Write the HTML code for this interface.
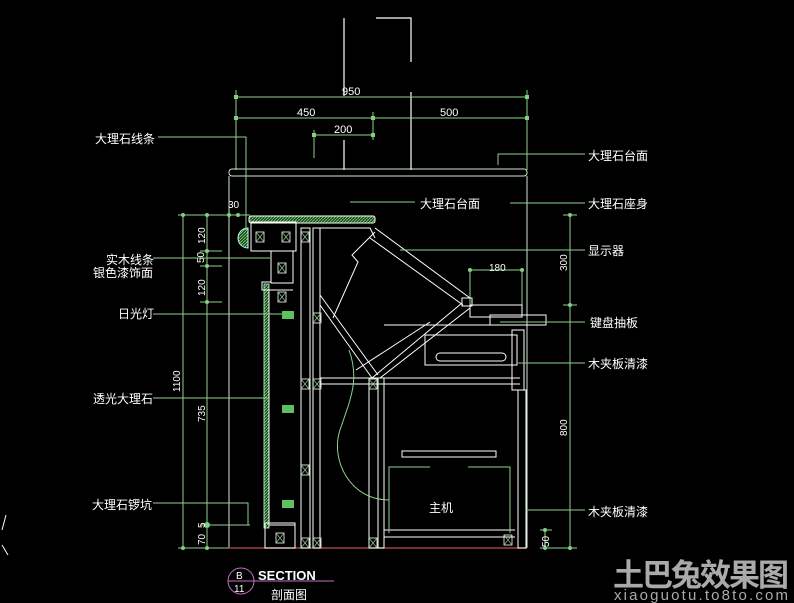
<!DOCTYPE html>
<html><head><meta charset="utf-8"><style>
html,body{margin:0;padding:0;background:#000;}
svg{display:block;}
text{font-family:"Liberation Sans","Noto Sans CJK SC",sans-serif;}
</style></head><body>
<svg width="794" height="603" viewBox="0 0 794 603" xmlns="http://www.w3.org/2000/svg">
<rect width="794" height="603" fill="#000"/>
<defs>
<pattern id="h" width="3" height="3" patternUnits="userSpaceOnUse"><rect width="3" height="3" fill="#1a4a1a"/><path d="M0 3L3 0" stroke="#7fd07f" stroke-width="0.8"/></pattern>
<g id="x"><rect x="-4" y="-5" width="8" height="10" fill="none" stroke="#fff" stroke-width="0.8"/><path d="M-4 -5L4 5M4 -5L-4 5" stroke="#8fd08f" stroke-width="0.7"/></g>
</defs>
<g stroke="#fff" stroke-width="1.2" fill="none">
<path d="M344 18V96"/><path d="M344 140V170"/><path d="M376 18H411V62"/><path d="M411 92V170"/>
</g>
<g stroke="#8fd08f" stroke-width="1" fill="none">
<path d="M236 97H527"/><path d="M236 90V170"/><path d="M527 90V170"/>
<path d="M236 118H527"/><path d="M373 112V140"/>
<path d="M314 135H373"/><path d="M314 130V158"/>
</g>
<g fill="#7fd07f"><rect x="234" y="95" width="4" height="4"/><rect x="525" y="95" width="4" height="4"/><rect x="234" y="116" width="4" height="4"/><rect x="371" y="116" width="4" height="4"/><rect x="525" y="116" width="4" height="4"/><rect x="371" y="133" width="4" height="4"/><rect x="312" y="133" width="4" height="4"/></g>
<g fill="#fff" font-size="11"><text x="342" y="95">950</text><text x="297" y="116">450</text><text x="440" y="116">500</text><text x="334" y="133">200</text></g>
<g stroke="#cfe8cf" stroke-width="1" fill="none">
<rect x="229" y="169" width="298" height="7" rx="3"/>
<path d="M229 176V548M527 176V548"/>
</g>
<g stroke="#8fd08f" stroke-width="1" fill="none">
<path d="M183 213V550"/><path d="M207 213V550"/>
<path d="M178 215H250"/><path d="M200 251H222M200 266H222M200 302H222M200 525H250M178 548H229"/>
<path d="M563 215H577M563 305H577M540 548H577M570 213V550M545 530V548M540 530H552"/>
<path d="M470 305V270H522V305"/>
</g>
<g fill="#7fd07f"><circle cx="183" cy="215" r="2"/><circle cx="207" cy="215" r="2"/><circle cx="229" cy="215" r="2"/><circle cx="238" cy="215" r="2"/><circle cx="207" cy="251" r="2"/><circle cx="207" cy="266" r="2"/><circle cx="207" cy="302" r="2"/><circle cx="207" cy="525" r="3"/><circle cx="183" cy="548" r="2"/><circle cx="207" cy="548" r="2"/><circle cx="570" cy="215" r="2"/><circle cx="570" cy="305" r="2"/><circle cx="570" cy="548" r="2"/><circle cx="545" cy="548" r="2"/><circle cx="545" cy="530" r="2"/><circle cx="470" cy="270" r="2"/><circle cx="522" cy="270" r="2"/></g>
<g fill="#fff" font-size="10">
<text transform="translate(180,392) rotate(-90)">1100</text>
<text transform="translate(205,244) rotate(-90)">120</text>
<text transform="translate(204,263) rotate(-90)">50</text>
<text transform="translate(205,296) rotate(-90)">120</text>
<text transform="translate(205,422) rotate(-90)">735</text>
<text transform="translate(205,528) rotate(-90)">5</text>
<text transform="translate(205,545) rotate(-90)">70</text>
<text transform="translate(567,271) rotate(-90)">300</text>
<text transform="translate(567,436) rotate(-90)">800</text>
<text transform="translate(549,547) rotate(-90)">50</text>
<text x="228" y="208">30</text><text x="489" y="271">180</text>
</g>
<path d="M229 548H527" stroke="#a04040" stroke-width="1.5"/>
<rect x="249" y="216" width="126" height="7" rx="2" fill="url(#h)" stroke="#fff" stroke-width="1"/>
<path d="M248 228 A10 10 0 0 0 248 248Z" fill="url(#h)" stroke="#cfe"/>
<rect x="264" y="284" width="5" height="244" fill="url(#h)" stroke="#cfe" stroke-width="0.8"/>
<g stroke="#fff" stroke-width="1" fill="none">
<rect x="251" y="222" width="45" height="29"/>
<path d="M271 251V282H262V290H293"/>
<rect x="271" y="251" width="22" height="32"/>
<path d="M269 290V525H295V548"/><rect x="265" y="523" width="30" height="25"/>
<rect x="301" y="228" width="9" height="320"/>
<rect x="313" y="228" width="7" height="320"/>
<path d="M320 228H370L375 238"/>
<rect x="369" y="378" width="9" height="170"/>
<rect x="378" y="378" width="6" height="170"/>
<path d="M320 378H520M320 384H520"/>
<path d="M375 228L470 298M370 238L463 305"/>
<path d="M320 295L378 375M320 305L372 378"/>
<path d="M372 378L462 303M380 378L470 308"/>
<path d="M375 232L352 255L358 262L333 318"/>
<path d="M430 322L356 370"/>
<rect x="470" y="305" width="52" height="12"/><rect x="462" y="298" width="10" height="8"/>
<rect x="490" y="315" width="56" height="10"/>
<path d="M384 325H520"/>
<rect x="425" y="335" width="92" height="30"/><rect x="436" y="353" width="70" height="8" rx="4"/>
<rect x="512" y="330" width="12" height="60"/>
<rect x="518" y="390" width="8" height="158"/>
<rect x="402" y="451" width="94" height="6"/>
<path d="M384 530H515M384 537H515"/>
</g>
<g>
<use href="#x" x="260" y="237"/><use href="#x" x="286" y="237"/><use href="#x" x="282" y="268"/><use href="#x" x="282" y="297"/>
<use href="#x" x="305" y="237"/><use href="#x" x="305" y="384"/><use href="#x" x="305" y="470"/><use href="#x" x="305" y="543"/>
<use href="#x" x="317" y="318"/><use href="#x" x="317" y="384"/><use href="#x" x="317" y="543"/>
<use href="#x" x="373" y="384"/><use href="#x" x="373" y="543"/><use href="#x" x="280" y="538"/><use href="#x" x="508" y="540"/>
</g>
<path d="M389 533V467H430M468 467H510V533" stroke="#8fd08f" fill="none"/>
<path d="M349 350C360 380 350 400 340 430C330 460 350 500 389 500" stroke="#8fd08f" fill="none"/>
<g fill="#5fc05f"><rect x="282" y="311" width="12" height="8"/><rect x="282" y="405" width="12" height="8"/><rect x="282" y="500" width="12" height="8"/></g>
<g stroke="#8fd08f" stroke-width="1" fill="none">
<path d="M158 137H246V230"/><path d="M153 258H270"/><path d="M153 314H282"/>
<path d="M153 398H268"/><path d="M153 503H248V525"/>
<path d="M585 154H498V165"/><path d="M585 203H510"/><path d="M585 250H400"/>
<path d="M585 322H500"/><path d="M585 363H518"/><path d="M585 510H526"/>
<path d="M350 202H415"/>
</g>
<g fill="#fff" font-size="12">
<text x="95" y="143">大理石线条</text>
<text x="106" y="264">实木线条</text><text x="93" y="277">银色漆饰面</text>
<text x="118" y="318">日光灯</text>
<text x="93" y="403">透光大理石</text>
<text x="92" y="509">大理石锣坑</text>
<text x="420" y="208">大理石台面</text>
<text x="588" y="160">大理石台面</text>
<text x="588" y="208">大理石座身</text>
<text x="588" y="255">显示器</text>
<text x="590" y="327">键盘抽板</text>
<text x="588" y="368">木夹板清漆</text>
<text x="588" y="516">木夹板清漆</text>
<text x="429" y="512">主机</text>
</g>
<circle cx="241" cy="581" r="13" fill="none" stroke="#c070c0"/>
<path d="M228 581H334" stroke="#c070c0"/>
<text x="236" y="579" fill="#fff" font-size="10">B</text>
<text x="234" y="592" fill="#fff" font-size="10">11</text>
<text x="258" y="580" fill="#fff" font-size="13" font-weight="bold">SECTION</text>
<text x="271" y="599" fill="#fff" font-size="12">剖面图</text>
<text x="613" y="586" fill="#aaa" font-size="31" font-weight="bold" textLength="176">土巴兔效果图</text>
<text x="614" y="600" fill="#aaa" font-size="15" textLength="174">xiaoguotu.to8to.com</text>
<path d="M6 515L2 530M2 545L8 555" stroke="#fff"/>
</svg>
</body></html>
